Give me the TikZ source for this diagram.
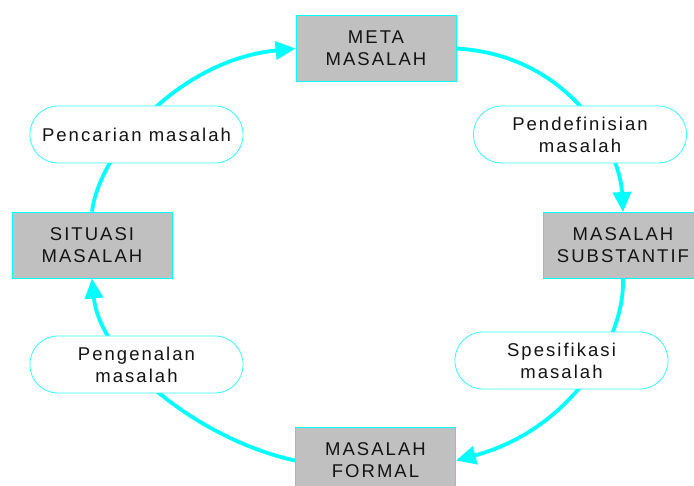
\documentclass[tikz,border=0pt]{standalone}
\usepackage{fontspec}
\setmainfont{Liberation Sans}[LetterSpace=11]
\usetikzlibrary{arrows.meta}
\definecolor{cy}{RGB}{0,255,255}
\definecolor{boxgray}{RGB}{192,192,192}
\definecolor{ink}{RGB}{20,20,20}
\begin{document}
\begin{tikzpicture}[x=1pt,y=-1pt,
  box/.style={draw=cy,line width=0.9pt,fill=boxgray,minimum width=160pt,minimum height=66pt,inner sep=0pt,align=center,font=\fontsize{18.5}{22}\selectfont,text=ink},
  pill/.style={draw=cy!80,line width=0.8pt,fill=white,rounded corners=28pt,minimum width=213pt,minimum height=57pt,inner sep=0pt,align=center,font=\fontsize{18.5}{22}\selectfont,text=ink},
  flow/.style={draw=cy,line width=3.8pt,-{Triangle[length=20pt,width=18pt]}}]
\useasboundingbox (0,0) rectangle (694,486);
\node[box] (meta) at (376,48.5) {META\\MASALAH};
\node[box] (sub) at (623,245.5) {MASALAH\\SUBSTANTIF};
\node[box] (sit) at (92,245) {SITUASI\\MASALAH};
\node[box] (formal) at (375.5,460.5) {MASALAH\\FORMAL};
\draw[flow] (sit.north) .. controls (100,150) and (180,60) .. (meta.west);
\draw[flow] (meta.east) .. controls (570,55) and (620,150) .. (sub.north);
\draw[flow] (sub.south) .. controls (625,340) and (570,430) .. (formal.east);
\draw[flow] (formal.west) .. controls (200,440) and (100,360) .. (sit.south);
\node[pill] (pc) at (136.5,134.5) {Pencarian masalah};
\node[pill] (pd) at (580,134.5) {Pendefinisian\\masalah};
\node[pill] (sp) at (561.5,360.5) {Spesifikasi\\masalah};
\node[pill] (pg) at (136.5,364.5) {Pengenalan\\masalah};
\end{tikzpicture}
\end{document}
